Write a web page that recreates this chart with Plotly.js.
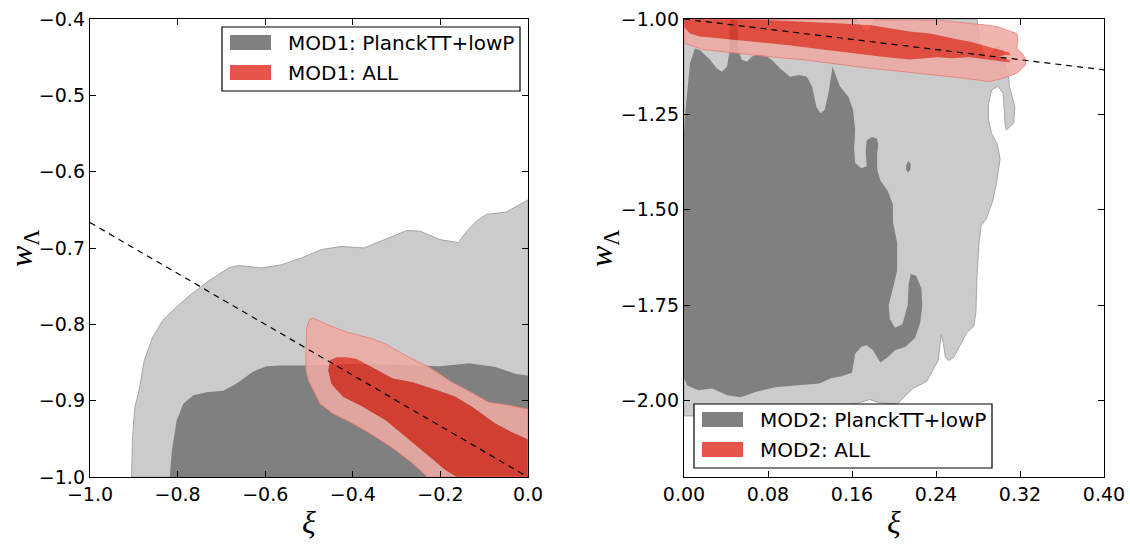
<!DOCTYPE html>
<html>
<head>
<meta charset="utf-8">
<script src="https://cdn.plot.ly/plotly-3.0.1.min.js"></script>
<style>
html,body{margin:0;padding:0;background:#fff;}
#chart{width:1130px;height:544px;}
.js-fill{fill-rule:evenodd !important;}
</style>
</head>
<body>
<div id="chart"></div>
<script>
// ---------------- DATA ----------------
// Left panel (MOD1): xi vs w_Lambda
const mod1PlanckOuterX = [-0.905,-0.903,-0.898,-0.888,-0.876,-0.857,-0.834,-0.804,-0.774,-0.729,-0.683,-0.661,-0.608,-0.563,-0.517,-0.472,-0.427,-0.374,-0.336,-0.276,-0.246,-0.201,-0.159,-0.140,-0.118,-0.095,-0.050,0.0,0.0];
const mod1PlanckOuterY = [-1.0,-0.95,-0.91,-0.8865,-0.847,-0.817,-0.795,-0.778,-0.763,-0.743,-0.726,-0.723,-0.726,-0.722,-0.713,-0.702,-0.698,-0.700,-0.691,-0.677,-0.678,-0.689,-0.693,-0.678,-0.665,-0.656,-0.653,-0.637,-1.0];
const mod1PlanckInnerX = [-0.818,-0.813,-0.802,-0.787,-0.764,-0.733,-0.696,-0.666,-0.628,-0.597,-0.567,-0.506,-0.40,-0.30,-0.20,-0.135,-0.074,-0.028,0.0,0.0];
const mod1PlanckInnerY = [-1.0,-0.965,-0.926,-0.904,-0.893,-0.889,-0.887,-0.878,-0.862,-0.855,-0.854,-0.854,-0.852,-0.853,-0.855,-0.851,-0.856,-0.865,-0.867,-1.0];
const mod1AllOuterX = [-0.507,-0.505,-0.498,-0.490,-0.460,-0.415,-0.355,-0.324,-0.279,-0.226,-0.173,-0.136,-0.090,-0.053,0.0,0.0,-0.230,-0.264,-0.302,-0.355,-0.400,-0.445,-0.475,-0.490,-0.501,-0.507];
const mod1AllOuterY = [-0.834,-0.804,-0.793,-0.792,-0.800,-0.810,-0.819,-0.826,-0.841,-0.856,-0.876,-0.887,-0.902,-0.905,-0.911,-1.0,-1.0,-0.982,-0.965,-0.945,-0.930,-0.917,-0.904,-0.887,-0.874,-0.860];
const mod1AllInnerX = [-0.437,-0.415,-0.392,-0.362,-0.309,-0.264,-0.204,-0.166,-0.128,-0.075,-0.038,0.0,0.0,-0.162,-0.188,-0.234,-0.279,-0.324,-0.377,-0.422,-0.449,-0.456,-0.452];
const mod1AllInnerY = [-0.843,-0.843,-0.845,-0.854,-0.871,-0.876,-0.887,-0.895,-0.908,-0.930,-0.941,-0.951,-1.0,-1.0,-0.991,-0.969,-0.947,-0.926,-0.908,-0.895,-0.878,-0.860,-0.847];
const mod1LineX = [-1.0, 0.0];
const mod1LineY = [-0.6667, -1.0];

// Right panel (MOD2)
const mod2PlanckOuterX = [0.0,0.164,0.167,0.171,0.176,0.179,0.181,0.279,0.282,0.287,0.288,0.293,0.298,0.303,0.307,0.309,0.310,0.315,0.314,0.307,0.306,0.304,0.299,0.293,0.290,0.290,0.293,0.298,0.300,0.301,0.298,0.294,0.288,0.283,0.281,0.279,0.278,0.276,0.269,0.262,0.257,0.252,0.249,0.247,0.245,0.242,0.238,0.231,0.218,0.208,0.203,0.185,0.177,0.168,0.12,0.05,0.0];
const mod2PlanckOuterY = [-1.0,-1.0,-1.015,-1.03,-1.033,-1.012,-1.0,-1.0,-1.064,-1.107,-1.112,-1.090,-1.073,-1.077,-1.125,-1.151,-1.177,-1.230,-1.273,-1.291,-1.282,-1.195,-1.176,-1.186,-1.221,-1.265,-1.300,-1.326,-1.35,-1.368,-1.423,-1.477,-1.523,-1.541,-1.586,-1.677,-1.768,-1.805,-1.823,-1.859,-1.886,-1.895,-1.886,-1.850,-1.827,-1.895,-1.914,-1.950,-1.968,-1.995,-2.009,-2.005,-1.997,-2.005,-2.03,-2.04,-2.04];
const mod2PlanckInnerX = [0.0,0.001,0.003,0.0057,0.0105,0.0152,0.0248,0.031,0.036,0.041,0.043,0.0438,0.0508,0.0517,0.055,0.060,0.0645,0.0708,0.077,0.0835,0.0914,0.101,0.110,0.117,0.122,0.126,0.130,0.134,0.1375,0.140,0.1415,0.1438,0.1486,0.1565,0.161,0.163,0.162,0.163,0.169,0.174,0.173,0.174,0.179,0.184,0.185,0.184,0.184,0.187,0.194,0.199,0.199,0.203,0.203,0.199,0.195,0.196,0.201,0.208,0.213,0.214,0.216,0.221,0.226,0.227,0.225,0.220,0.211,0.201,0.194,0.187,0.180,0.174,0.169,0.163,0.160,0.150,0.140,0.129,0.109,0.0885,0.068,0.054,0.041,0.027,0.0136,0.003,0.0];
const mod2PlanckInnerY = [-1.30,-1.25,-1.195,-1.116,-1.077,-1.081,-1.107,-1.129,-1.138,-1.125,-1.090,-1.0,-1.0,-1.081,-1.107,-1.112,-1.099,-1.090,-1.094,-1.107,-1.129,-1.151,-1.147,-1.151,-1.177,-1.230,-1.247,-1.238,-1.195,-1.142,-1.125,-1.142,-1.177,-1.204,-1.238,-1.291,-1.341,-1.377,-1.391,-1.386,-1.35,-1.318,-1.309,-1.314,-1.332,-1.35,-1.395,-1.423,-1.45,-1.486,-1.532,-1.586,-1.659,-1.705,-1.75,-1.786,-1.809,-1.800,-1.75,-1.695,-1.668,-1.673,-1.705,-1.75,-1.795,-1.836,-1.859,-1.868,-1.886,-1.900,-1.868,-1.855,-1.859,-1.877,-1.927,-1.936,-1.941,-1.955,-1.959,-1.964,-1.977,-1.991,-1.986,-1.968,-1.973,-1.96,-1.94];
const mod2IslandX = [0.2115,0.2135,0.2160,0.2155,0.2135,0.2115];
const mod2IslandY = [-1.385,-1.372,-1.380,-1.395,-1.402,-1.395];
const mod2AllOuterX = [0.0,0.241,0.256,0.272,0.288,0.298,0.307,0.317,0.318,0.317,0.322,0.326,0.325,0.317,0.304,0.291,0.266,0.241,0.209,0.177,0.145,0.114,0.082,0.050,0.018,0.001,0.0];
const mod2AllOuterY = [-1.0,-1.003,-1.007,-1.011,-1.016,-1.020,-1.029,-1.038,-1.055,-1.077,-1.090,-1.107,-1.121,-1.142,-1.155,-1.164,-1.155,-1.147,-1.138,-1.129,-1.118,-1.107,-1.099,-1.090,-1.080,-1.064,-1.06];
const mod2AllInnerX = [0.0,0.0,0.001,0.0057,0.015,0.034,0.066,0.098,0.130,0.161,0.193,0.215,0.241,0.256,0.272,0.291,0.304,0.310,0.311,0.300,0.304,0.311,0.310,0.301,0.291,0.272,0.260,0.247,0.234,0.215,0.193,0.177,0.145,0.114,0.082,0.06];
const mod2AllInnerY = [-1.0,-1.02,-1.024,-1.038,-1.046,-1.051,-1.059,-1.068,-1.079,-1.090,-1.100,-1.106,-1.100,-1.103,-1.100,-1.107,-1.112,-1.114,-1.108,-1.099,-1.095,-1.095,-1.088,-1.081,-1.072,-1.059,-1.053,-1.046,-1.038,-1.033,-1.024,-1.016,-1.011,-1.007,-1.004,-1.0];
const mod2LineX = [0.0, 0.4];
const mod2LineY = [-1.0, -1.1333];

// Tick labels / legend labels
const leftXTicks = [-1.0,-0.8,-0.6,-0.4,-0.2,0.0];
const leftYTicks = [-1.0,-0.9,-0.8,-0.7,-0.6,-0.5,-0.4];
const rightXTicks = [0.0,0.08,0.16,0.24,0.32,0.40];
const rightYTicks = [-2.0,-1.75,-1.5,-1.25,-1.0];
const legendLeft = ["MOD1: PlanckTT+lowP", "MOD1: ALL"];
const legendRight = ["MOD2: PlanckTT+lowP", "MOD2: ALL"];

// ---------------- STYLE ----------------
const C_LGRAY = '#cbcbcb', C_LGRAY_EDGE = '#a6a6a6', C_DGRAY = '#808080';
const C_LRED = 'rgba(239,170,164,0.87)', C_LRED_EDGE = 'rgba(232,120,110,0.75)';
const C_DRED = 'rgba(228,46,30,0.8)', C_LEG_RED = '#e5554a';
const W = 1130, H = 544;
const FONT = 'DejaVu Sans, sans-serif';

function closed(a){ return a.concat([a[0]]); }
function poly(x, y, ax, fillcolor, linecolor, lw){
  return {x: closed(x), y: closed(y), xaxis: ax[0], yaxis: ax[1], mode: 'lines',
    fill: 'toself', fillcolor: fillcolor, line: {color: linecolor, width: lw},
    hoverinfo: 'skip', showlegend: false};
}
function ring(ox, oy, ix, iy, ax, fillcolor){
  return {x: closed(ox).concat([null], closed(ix)), y: closed(oy).concat([null], closed(iy)),
    xaxis: ax[0], yaxis: ax[1], mode: 'lines', fill: 'toself', fillcolor: fillcolor,
    line: {width: 0, color: 'rgba(0,0,0,0)'}, connectgaps: false, hoverinfo: 'skip', showlegend: false};
}
function outline(x, y, ax, color){
  return {x: closed(x), y: closed(y), xaxis: ax[0], yaxis: ax[1], mode: 'lines',
    line: {color: color, width: 1}, hoverinfo: 'skip', showlegend: false};
}
function dashed(x, y, ax){
  return {x: x, y: y, xaxis: ax[0], yaxis: ax[1], mode: 'lines',
    line: {color: '#000', width: 1.2, dash: '6px,5px'}, hoverinfo: 'skip', showlegend: false};
}

const A1 = ['x', 'y'], A2 = ['x2', 'y2'];
const traces = [
  poly(mod1PlanckOuterX, mod1PlanckOuterY, A1, C_LGRAY, C_LGRAY_EDGE, 1),
  poly(mod1PlanckInnerX, mod1PlanckInnerY, A1, C_DGRAY, 'rgba(0,0,0,0)', 0),
  ring(mod1AllOuterX, mod1AllOuterY, mod1AllInnerX, mod1AllInnerY, A1, C_LRED),
  poly(mod1AllInnerX, mod1AllInnerY, A1, C_DRED, 'rgba(0,0,0,0)', 0),
  outline(mod1AllOuterX, mod1AllOuterY, A1, C_LRED_EDGE),
  dashed(mod1LineX, mod1LineY, A1),

  poly(mod2PlanckOuterX, mod2PlanckOuterY, A2, C_LGRAY, C_LGRAY_EDGE, 1),
  poly(mod2PlanckInnerX, mod2PlanckInnerY, A2, C_DGRAY, 'rgba(0,0,0,0)', 0),
  poly(mod2IslandX, mod2IslandY, A2, C_DGRAY, 'rgba(0,0,0,0)', 0),
  ring(mod2AllOuterX, mod2AllOuterY, mod2AllInnerX, mod2AllInnerY, A2, C_LRED),
  poly(mod2AllInnerX, mod2AllInnerY, A2, C_DRED, 'rgba(0,0,0,0)', 0),
  outline(mod2AllOuterX, mod2AllOuterY, A2, C_LRED_EDGE),
  dashed(mod2LineX, mod2LineY, A2)
];

// pixel -> paper helpers (layout only)
const px = v => v / W, py = v => 1 - v / H;

function axisBase(){
  return {showline: true, linecolor: '#000', linewidth: 1.2, mirror: 'allticks',
    ticks: 'inside', ticklen: 6, tickwidth: 1, tickcolor: '#000',
    showgrid: false, zeroline: false, fixedrange: true,
    tickfont: {family: FONT, size: 19, color: '#000'}};
}
const yTop = py(19), yBot = py(477);
const layout = {
  width: W, height: H, margin: {l: 0, r: 0, t: 0, b: 0},
  paper_bgcolor: '#fff', plot_bgcolor: '#fff', showlegend: false,
  xaxis: Object.assign(axisBase(), {domain: [px(90), px(528)], range: [-1.0, 0.0],
    tickvals: leftXTicks, tickformat: '.1f', anchor: 'y'}),
  yaxis: Object.assign(axisBase(), {domain: [yBot, yTop], range: [-1.0, -0.4],
    tickvals: leftYTicks, tickformat: '.1f', anchor: 'x'}),
  xaxis2: Object.assign(axisBase(), {domain: [px(684), px(1104)], range: [0.0, 0.4],
    tickvals: rightXTicks, tickformat: '.2f', anchor: 'y2'}),
  yaxis2: Object.assign(axisBase(), {domain: [yBot, yTop], range: [-2.2, -1.0],
    tickvals: rightYTicks, tickformat: '.2f', anchor: 'x2'}),
  shapes: [], annotations: []
};

function addLegend(x0, y0, labels){
  layout.shapes.push({type: 'rect', xref: 'paper', yref: 'paper',
    x0: px(x0), x1: px(x0 + 298), y0: py(y0 + 64), y1: py(y0),
    fillcolor: '#fff', line: {color: '#000', width: 1.2}, layer: 'above'});
  const cols = [C_DGRAY, C_LEG_RED];
  labels.forEach((lab, i) => {
    const rowTop = y0 + 8 + i * 30;
    layout.shapes.push({type: 'rect', xref: 'paper', yref: 'paper',
      x0: px(x0 + 8), x1: px(x0 + 49), y0: py(rowTop + 15), y1: py(rowTop),
      fillcolor: cols[i], line: {width: 0}, layer: 'above'});
    layout.annotations.push({xref: 'paper', yref: 'paper', x: px(x0 + 64), y: py(rowTop + 8),
      xanchor: 'left', yanchor: 'middle', showarrow: false, text: lab,
      font: {family: FONT, size: 20, color: '#000'}});
  });
}
addLegend(222, 27, legendLeft);
addLegend(694, 404, legendRight);

// axis titles
const titleFont = {family: 'Liberation Serif, DejaVu Serif, serif', size: 32, color: '#000'};
layout.annotations.push(
  {xref: 'paper', yref: 'paper', x: px(309), y: py(522), text: '<i>ξ</i>', showarrow: false,
   xanchor: 'center', yanchor: 'middle', font: titleFont},
  {xref: 'paper', yref: 'paper', x: px(894), y: py(522), text: '<i>ξ</i>', showarrow: false,
   xanchor: 'center', yanchor: 'middle', font: titleFont},
  {xref: 'paper', yref: 'paper', x: px(24), y: py(248), text: '<i>w</i><sub>Λ</sub>', showarrow: false,
   textangle: -90, xanchor: 'center', yanchor: 'middle', font: titleFont},
  {xref: 'paper', yref: 'paper', x: px(604), y: py(248), text: '<i>w</i><sub>Λ</sub>', showarrow: false,
   textangle: -90, xanchor: 'center', yanchor: 'middle', font: titleFont}
);

Plotly.newPlot('chart', traces, layout, {displayModeBar: false, staticPlot: true});
</script>
</body>
</html>
